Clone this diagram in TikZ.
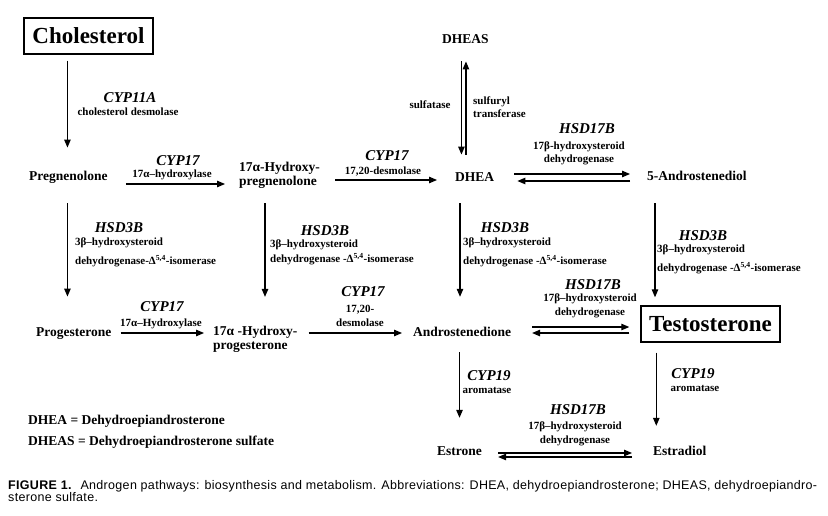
\documentclass[tikz,border=0pt]{standalone}
\usepackage{fontspec}
\setmainfont{Liberation Serif}
\newfontfamily\capfont[LetterSpace=2.5]{Liberation Sans}
\usetikzlibrary{arrows.meta,calc}
\tikzset{
  lbl/.style={font=\fontsize{13.5}{14}\selectfont\bfseries, inner sep=0pt, text height=9.5pt, text depth=3pt, anchor=west},
  lbltwo/.style={font=\fontsize{13.5}{14}\selectfont\bfseries, inner sep=0pt, anchor=west, align=left},
  bigbox/.style={draw, line width=1.4pt, font=\fontsize{23}{24}\selectfont\bfseries, inner sep=0pt},
  enz/.style={font=\fontsize{15}{16}\selectfont\bfseries\itshape, inner sep=0pt},
  sm/.style={font=\fontsize{11}{13.5}\selectfont\bfseries, inner sep=0pt, align=center},
  smleft/.style={font=\fontsize{11}{13.5}\selectfont\bfseries, inner sep=0pt, anchor=west},
  arr/.style={-{Triangle[length=8pt,width=6.5pt]}, line width=1.1pt},
  capt/.style={font=\fontsize{12.5}{13}\selectfont\capfont, inner sep=0pt, anchor=base west},
}
\begin{document}
\begin{tikzpicture}[x=1pt,y=-1pt]
\useasboundingbox (0,0) rectangle (828,515);
% compounds
\node[bigbox, minimum width=129pt, minimum height=36pt] (chol) at (88.5,36) {Cholesterol};
\node[bigbox, minimum width=139pt, minimum height=36pt] (test) at (710.5,324) {Testosterone};
\node[lbl] (preg) at (29,177) {Pregnenolone};
\node[lbltwo] (ohpreg) at (239,175) {17α-Hydroxy-\\pregnenolone};
\node[lbl] (dhea) at (455,178) {DHEA};
\node[lbl] (dheas) at (442,40) {DHEAS};
\node[lbl] (andiol) at (647,177) {5-Androstenediol};
\node[lbl] (prog) at (36,333) {Progesterone};
\node[lbltwo] (ohprog) at (213,339.5) {17α -Hydroxy-\\progesterone};
\node[lbl] (andione) at (413,333) {Androstenedione};
\node[lbl] (estrone) at (437,452) {Estrone};
\node[lbl] (estradiol) at (653,452) {Estradiol};
\node[lbl] (leg1) at (28,421) {DHEA = Dehydroepiandrosterone};
\node[lbl] (leg2) at (28,442) {DHEAS = Dehydroepiandrosterone sulfate};
% arrows
\draw[arr, shorten <=6pt, shorten >=23pt] ($(chol.south -| preg.north)+(-1,0)$) -- ($(preg.north)+(-1,0)$);
\draw[arr, shorten <=20pt, shorten >=30pt] ($(preg.south)+(-1,0)$) -- ($(preg.south |- prog.north)+(-1,0)$);
\draw[arr, shorten <=18pt, shorten >=14pt] ($(preg.east)+(0,7)$) -- ($(preg.east -| ohpreg.west)+(0,7)$);
\draw[arr, shorten <=15pt, shorten >=18pt] ($(ohpreg.east |- dhea.west)+(0,2)$) -- ($(dhea.west)+(0,2)$);
\draw[arr, shorten <=15pt, shorten >=17pt] ($(dheas.south)+(-4,0)$) -- ($(dheas.south |- dhea.north)+(-4,0)$);
\draw[arr, shorten <=17pt, shorten >=15pt] ($(dheas.south |- dhea.north)+(0.5,0)$) -- ($(dheas.south)+(0.5,0)$);
\draw[arr, shorten <=20pt, shorten >=17pt] ($(dhea.east)+(0,-4)$) -- ($(dhea.east -| andiol.west)+(0,-4)$);
\draw[arr, shorten <=17pt, shorten >=23pt] ($(dhea.east -| andiol.west)+(0,3)$) -- ($(dhea.east)+(0,3)$);
\draw[arr, shorten <=14.75pt, shorten >=29.25pt] ($(ohpreg.south west)+(26,0)$) -- ($(ohpreg.south west |- ohprog.north)+(26,0)$);
\draw[arr, shorten <=18.75pt, shorten >=29.75pt] ($(dhea.south west)+(5,0)$) -- ($(dhea.south west |- andione.north)+(5,0)$);
\draw[arr, shorten <=19.75pt, shorten >=8pt] ($(andiol.south west)+(8,0)$) -- ($(andiol.south west |- test.north)+(8,0)$);
\draw[arr, shorten <=9pt, shorten >=9pt] (prog.east) -- (prog.east -| ohprog.west);
\draw[arr, shorten <=11pt, shorten >=11pt] (ohprog.east |- andione.west) -- (andione.west);
\draw[arr, shorten <=20.7pt, shorten >=11pt] ($(andione.east)+(0,-6)$) -- ($(andione.east -| test.west)+(0,-6)$);
\draw[arr, shorten <=11pt, shorten >=20.7pt] (andione.east -| test.west) -- (andione.east);
\draw[arr, shorten <=12.75pt, shorten >=27.75pt] ($(andione.south west)+(46.5,0)$) -- ($(andione.south west |- estrone.north)+(46.5,0)$);
\draw[arr, shorten <=10pt, shorten >=19.75pt] ($(test.south west)+(16,0)$) -- ($(test.south west |- estradiol.north)+(16,0)$);
\draw[arr, shorten <=16pt, shorten >=21pt] ($(estrone.east)+(0,1)$) -- ($(estrone.east -| estradiol.west)+(0,1)$);
\draw[arr, shorten <=21pt, shorten >=16pt] ($(estrone.east -| estradiol.west)+(0,5)$) -- ($(estrone.east)+(0,5)$);
% enzyme labels
\node[enz] (e1) at (130,98) {CYP11A};
\node[sm] (e1d) at (128,112) {cholesterol desmolase};
\node[enz] (e2) at (178,161) {CYP17};
\node[sm] (e2d) at (172,175) {17α–hydroxylase};
\node[enz] (e3) at (387,156) {CYP17};
\node[sm] (e3d) at (383,172) {17,20-desmolase};
\node[sm] (e4a) at (430,105) {sulfatase};
\node[sm, align=left, anchor=west] (e4b) at (473,107) {sulfuryl\\transferase};
\node[enz] (e5) at (587,129) {HSD17B};
\node[sm] (e5d) at (579,153.5) {17β-hydroxysteroid\\dehydrogenase};
\node[enz] (h1) at (119,228) {HSD3B};
\node[smleft] (h1a) at (75,243) {3β–hydroxysteroid};
\node[smleft] (h1b) at (75,261) {dehydrogenase-Δ\textsuperscript{5,4}-isomerase};
\node[enz] (h2) at (325,230.5) {HSD3B};
\node[smleft] (h2a) at (270,245) {3β–hydroxysteroid};
\node[smleft] (h2b) at (270,259) {dehydrogenase -Δ\textsuperscript{5,4}-isomerase};
\node[enz] (h3) at (505,228) {HSD3B};
\node[smleft] (h3a) at (463,243) {3β–hydroxysteroid};
\node[smleft] (h3b) at (463,261) {dehydrogenase -Δ\textsuperscript{5,4}-isomerase};
\node[enz] (h4) at (703,236) {HSD3B};
\node[smleft] (h4a) at (657,250) {3β–hydroxysteroid};
\node[smleft] (h4b) at (657,268) {dehydrogenase -Δ\textsuperscript{5,4}-isomerase};
\node[enz] (c4) at (162,307) {CYP17};
\node[sm] (c4d) at (161,324) {17α–Hydroxylase};
\node[enz] (c5) at (363,292) {CYP17};
\node[sm] (c5d) at (360,316) {17,20-\\desmolase};
\node[enz] (m17) at (593,285) {HSD17B};
\node[sm] (m17d) at (590,306) {17β–hydroxysteroid\\dehydrogenase};
\node[enz] (a1) at (489,376) {CYP19};
\node[sm] (a1d) at (487,390) {aromatase};
\node[enz] (a2) at (693,374) {CYP19};
\node[sm] (a2d) at (695,388) {aromatase};
\node[enz] (b17) at (578,410) {HSD17B};
\node[sm] (b17d) at (575,434) {17β–hydroxysteroid\\dehydrogenase};
% caption
\node[capt] (cap1) at (8,489) {\textbf{FIGURE 1.}\hspace{0.7em}Androgen pathways: biosynthesis and metabolism. Abbreviations: DHEA, dehydroepiandrosterone; DHEAS, dehydroepiandro-};
\node[capt] (cap2) at (8,501) {sterone sulfate.};
\end{tikzpicture}
\end{document}
